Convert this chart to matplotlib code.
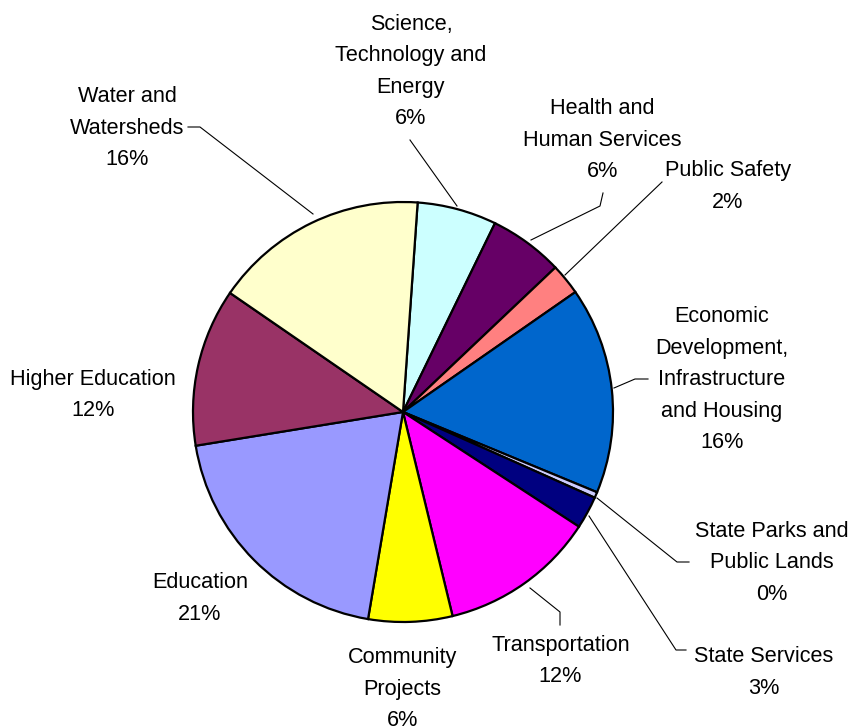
import matplotlib
matplotlib.use("Agg")
import matplotlib.pyplot as plt

# ---- data (clockwise from top) ----
categories = ["Science, Technology and Energy", "Health and Human Services", "Public Safety",
              "Economic Development, Infrastructure and Housing", "State Parks and Public Lands",
              "State Services", "Transportation", "Community Projects", "Education",
              "Higher Education", "Water and Watersheds"]
shares = [6.1, 5.7, 2.4, 15.9, 0.45, 2.5, 12.0, 6.45, 19.75, 12.15, 16.5]
label_lines = [["Science,", "Technology and", "Energy", "6%"],
               ["Health and", "Human Services", "6%"],
               ["Public Safety", "2%"],
               ["Economic", "Development,", "Infrastructure", "and Housing", "16%"],
               ["State Parks and", "Public Lands", "0%"],
               ["State Services", "3%"],
               ["Transportation", "12%"],
               ["Community", "Projects", "6%"],
               ["Education", "21%"],
               ["Higher Education", "12%"],
               ["Water and", "Watersheds", "16%"]]
colors = ["#CCFFFF", "#660066", "#FF8080", "#0066CC", "#CCCCFF", "#000080",
          "#FF00FF", "#FFFF00", "#9999FF", "#993366", "#FFFFCC"]

# label placement (pixel coords: x centre, first baseline)
label_pos = [(411, 30), (602.5, 114), (728, 176), (721.7, 322.3), (771.7, 536.7),
             (763.5, 662), (560.5, 650.7), (402.3, 663.3), (200, 588), (93, 385), (127, 102)]
leaders = {
    0: [(410, 140), (457, 206)],
    1: [(603, 193), (600, 206), (531, 240)],
    2: [(662, 182), (565, 275)],
    3: [(614, 388), (635, 379), (648, 379)],
    4: [(597, 498), (677, 562), (689, 562)],
    5: [(589, 516), (676, 650), (686, 650)],
    6: [(530, 588), (560, 612), (560, 625)],
    10: [(188, 127), (200, 127), (313, 214)],
}

W, H = 852, 727
fig = plt.figure(figsize=(W / 100, H / 100), dpi=100)
ax = fig.add_axes([0, 0, 1, 1])
ax.set_xlim(0, W)
ax.set_ylim(0, H)
ax.set_aspect("equal")
ax.axis("off")

cx, cy, r = 403, 412, 210
ax.pie(shares, colors=colors, startangle=86, counterclock=False,
       center=(cx, H - cy), radius=r,
       wedgeprops=dict(edgecolor="black", linewidth=1.6))
ax.set_xlim(0, W)
ax.set_ylim(0, H)

font = dict(family=["Liberation Sans", "DejaVu Sans"], size=15.6, color="black")
spacing = 31.5
for lines, (x, y0) in zip(label_lines, label_pos):
    for i, s in enumerate(lines):
        ax.text(x, H - (y0 + i * spacing), s, ha="center", va="baseline", **font)

for k, pts in leaders.items():
    ax.plot([p[0] for p in pts], [H - p[1] for p in pts], color="black", lw=0.8)

fig.savefig("out.png", dpi=100)
